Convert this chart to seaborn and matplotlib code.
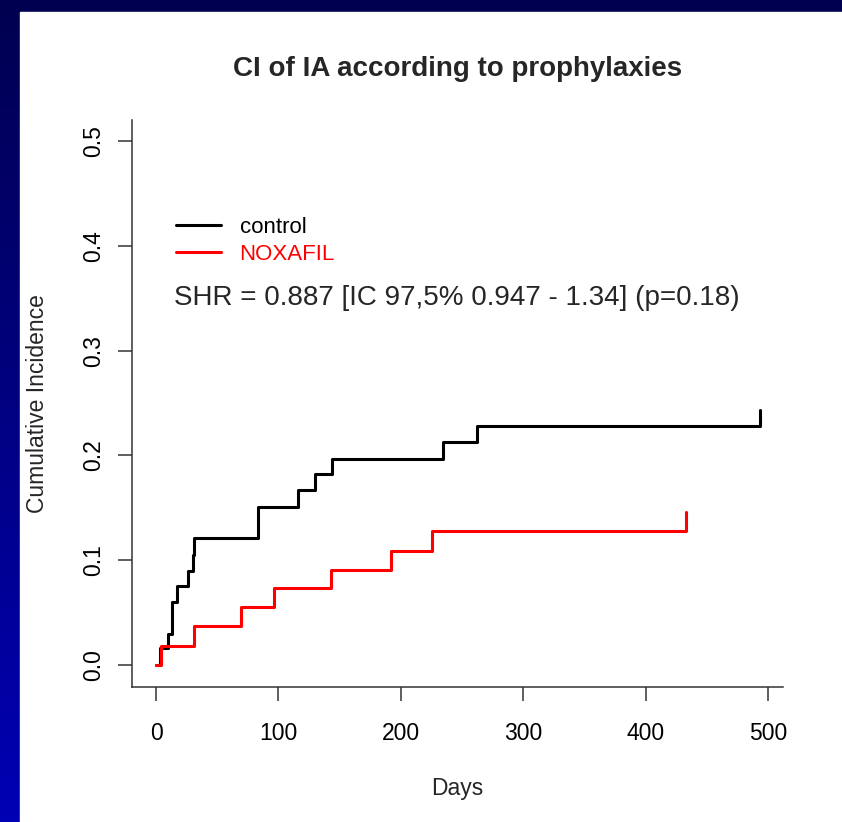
import numpy as np
import pandas as pd
import matplotlib
matplotlib.use("Agg")
import matplotlib.pyplot as plt
import seaborn as sns
from matplotlib.colors import LinearSegmentedColormap
from matplotlib.patches import Rectangle

# step points (event time in days, cumulative incidence)
control_days = [0, 3, 10, 13, 17, 26, 30, 31, 83, 116, 130, 144, 234, 262, 493]
control_ci = [0.0, 0.016, 0.030, 0.060, 0.075, 0.090, 0.105, 0.121, 0.151,
              0.167, 0.182, 0.197, 0.213, 0.228, 0.243]
noxafil_days = [0, 4, 31, 69, 96, 143, 192, 225, 433]
noxafil_ci = [0.0, 0.018, 0.037, 0.055, 0.073, 0.091, 0.109, 0.128, 0.146]

x_ticks = [0, 100, 200, 300, 400, 500]
y_ticks = [0.0, 0.1, 0.2, 0.3, 0.4, 0.5]
y_tick_labels = ["0.0", "0.1", "0.2", "0.3", "0.4", "0.5"]

df = pd.concat([
    pd.DataFrame({"Days": control_days, "CI": control_ci, "group": "control"}),
    pd.DataFrame({"Days": noxafil_days, "CI": noxafil_ci, "group": "NOXAFIL"}),
], ignore_index=True)

sns.set_style("ticks")
plt.rcParams["font.family"] = ["Liberation Sans", "DejaVu Sans"]

W, H = 842, 822
fig = plt.figure(figsize=(W / 100, H / 100), dpi=100)

# slide background: blue gradient frame with white panel
bg = fig.add_axes([0, 0, 1, 1], zorder=0)
cmap = LinearSegmentedColormap.from_list("slide", ["#000050", "#0000b4"])
bg.imshow(np.linspace(0, 1, 256)[:, None], aspect="auto", cmap=cmap,
          extent=[0, 1, 0, 1], origin="upper")
bg.add_patch(Rectangle((20 / W, 0), 1, (H - 12) / H, color="white", zorder=2))
bg.set_xlim(0, 1)
bg.set_ylim(0, 1)
bg.axis("off")

left, right, top, bottom = 132, 783, 120, 687
ax = fig.add_axes([left / W, (H - bottom) / H, (right - left) / W, (bottom - top) / H],
                  zorder=1)
ax.set_facecolor("none")

sns.lineplot(data=df, x="Days", y="CI", hue="group",
             palette={"control": "black", "NOXAFIL": "red"},
             drawstyle="steps-post", estimator=None, linewidth=2.2, ax=ax)

ax.set_xlim(-19.6, 512)
ax.set_ylim(-0.021, 0.52)
ax.set_xticks(x_ticks)
ax.set_yticks(y_ticks)
ax.set_yticklabels(y_tick_labels, rotation=90, va="center")
sns.despine(ax=ax)
for s in ["left", "bottom"]:
    ax.spines[s].set_color("#333333")
    ax.spines[s].set_linewidth(1.1)
ax.tick_params(axis="both", length=10, width=1.1, color="#333333",
               labelsize=16.5, labelcolor="black")
ax.tick_params(axis="x", pad=15)
ax.tick_params(axis="y", pad=9)

ax.set_xlabel("Days", fontsize=16.5)
ax.set_ylabel("Cumulative Incidence", fontsize=16.5)
ax.xaxis.set_label_coords(0.5, -0.159)
ax.yaxis.set_label_coords(-0.128, 0.5)

handles, labels = ax.get_legend_handles_labels()
ax.legend(handles, labels, loc="upper left", bbox_to_anchor=(0.068, 0.829),
          frameon=False, fontsize=16, labelcolor="linecolor",
          handlelength=2.0, handletextpad=0.85, labelspacing=0.27,
          borderpad=0, borderaxespad=0)

ax.text((174 - left) / (right - left), (bottom - 298) / (bottom - top),
        "SHR = 0.887 [IC 97,5% 0.947 - 1.34] (p=0.18)",
        transform=ax.transAxes, fontsize=20, va="center", ha="left")

fig.text((left + right) / 2 / W, 1 - 69 / H, "CI of IA according to prophylaxies",
         fontsize=20, fontweight="bold", ha="center", va="center")

fig.savefig("out.png", dpi=100)
